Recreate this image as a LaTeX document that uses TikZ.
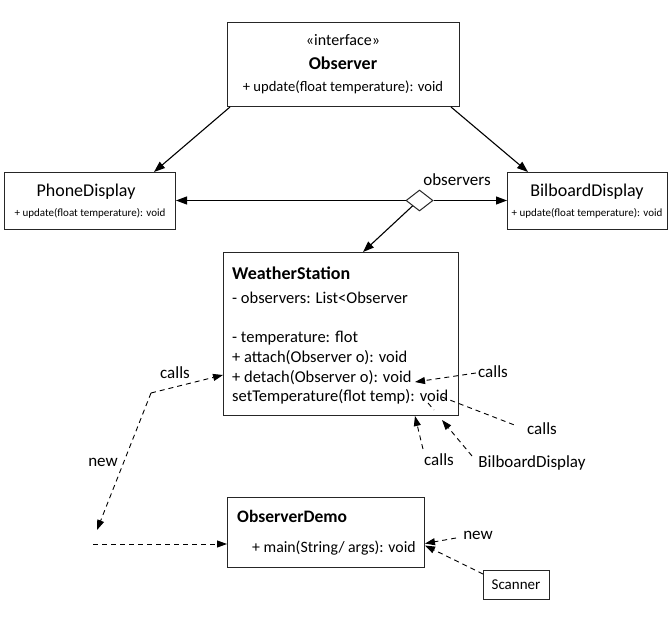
\documentclass[tikz,border=0pt]{standalone}
\usepackage{fontspec}
\setmainfont{Carlito}
\usetikzlibrary{arrows.meta,shapes.geometric}
\tikzset{
  box/.style={draw=black!85, line width=1pt, inner sep=0, anchor=north west, fill=white},
  arr/.style={line width=1.1pt, -{Triangle[length=11pt,width=8pt]}},
  darr/.style={line width=0.9pt, dash pattern=on 5pt off 4pt, -{Triangle[length=10pt,width=7pt]}},
  dln/.style={line width=0.9pt, dash pattern=on 5pt off 4pt},
  lbl/.style={inner sep=0, font=\fontsize{17}{20}\selectfont},
  memb/.style={inner sep=0, anchor=west, font=\fontsize{16.5}{19}\selectfont},
  small/.style={inner sep=0, font=\fontsize{11}{13}\selectfont},
  ttl/.style={inner sep=0, font=\fontsize{18}{21}\selectfont},
  bttl/.style={inner sep=0, font=\fontsize{18}{21}\selectfont\bfseries},
}
\begin{document}
\begin{tikzpicture}[x=1pt,y=-1pt]
\useasboundingbox (0,0) rectangle (672,618);
% Observer interface
\node[box, minimum width=232pt, minimum height=84pt] (obs) at (227,22) {};
\node[inner sep=0, font=\fontsize{16}{19}\selectfont] (obsst) at (343,40) {«interface»};
\node[bttl] (obsname) at (343,63) {Observer};
\node[inner sep=0, font=\fontsize{14.6}{17}\selectfont] (obsop) at (343,87) {+ update(float temperature): void};
% PhoneDisplay
\node[box, minimum width=171pt, minimum height=57pt] (phone) at (4,172) {};
\node[ttl] (phonename) at (86,192) {PhoneDisplay};
\node[small] (phoneop) at (90,213) {+ update(float temperature): void};
% BilboardDisplay
\node[box, minimum width=160pt, minimum height=57pt] (bil) at (507,172) {};
\node[ttl] (bilname) at (587,192) {BilboardDisplay};
\node[small] (bilop) at (587,213) {+ update(float temperature): void};
% diamond
\node[draw=black!85, line width=1pt, fill=white, diamond, minimum width=27pt, minimum height=21pt, inner sep=0] (dia) at (419.5,200.5) {};
\node[lbl] (obslbl) at (457,180) {observers};
% WeatherStation
\node[box, minimum width=235pt, minimum height=163pt] (ws) at (223,252) {};
\node[bttl, anchor=west] (wsname) at (232,273) {WeatherStation};
\node[memb] (ws1) at (232,298) {- observers: List<Observer};
\node[memb] (ws2) at (232,338) {- temperature: flot};
\node[memb] (ws3) at (232,358) {+ attach(Observer o): void};
\node[memb] (ws4) at (232,378) {+ detach(Observer o): void};
\node[memb] (ws5) at (232,397) {setTemperature(flot temp): void};
% ObserverDemo
\node[box, minimum width=197pt, minimum height=70pt] (demo) at (227,497) {};
\node[bttl, anchor=west, font=\fontsize{17.5}{21}\selectfont\bfseries] (demoname) at (237,516) {ObserverDemo};
\node[inner sep=0, anchor=west, font=\fontsize{15.8}{19}\selectfont] (demoop) at (252,548) {+ main(String/ args): void};
% Scanner
\node[box, minimum width=66pt, minimum height=29pt] (scan) at (483,570) {};
\node[inner sep=0, font=\fontsize{15}{18}\selectfont] (scanname) at (516,585) {Scanner};

% solid arrows
\draw[arr] ([xshift=3pt]obs.south west) -- ([xshift=-22pt]phone.north east);
\draw[arr] ([xshift=-9pt]obs.south east) -- ([xshift=21pt]bil.north west);
\draw[arr] (dia.west) -- (phone.east |- dia.west);
\draw[arr] (dia.east) -- (bil.west |- dia.east);
\draw[arr] (dia.south west) -- ([xshift=140pt]ws.north west);

% left dashed connectors
\coordinate (bend) at (151,393);
\coordinate (newtip) at (97,530);
\coordinate (hstart) at (93,544);
\node[lbl] (callsL) at (175,373) {calls};
\node[lbl] (newL) at (103,462) {new};
\draw[darr] (bend) -- (ws.west |- 0,375);
\draw[darr] (bend) -- (newtip);
\draw[darr] (hstart) -- (demo.west |- 0,544);

% right dashed connectors
\node[lbl] (callsR1) at (493,372) {calls};
\coordinate (t1) at (415,382);
\draw[darr] (callsR1.west) ++(-2,1) -- (t1);
\node[lbl] (callsR2) at (542,429) {calls};
\coordinate (c2a) at (442,397);
\coordinate (c2b) at (517,426);
\draw[dln] (c2a) -- (c2b);
\node[lbl] (callsB) at (439,460) {calls};
\coordinate (t3s) at (423,449);
\coordinate (t3) at (415,416);
\draw[darr] (t3s) -- (t3);
\node[lbl] (bdlbl) at (532,463) {BilboardDisplay};
\coordinate (t4s) at (472,456);
\coordinate (t4) at (442,420);
\coordinate (t4a) at (428,403);
\coordinate (t4b) at (434,410);
\draw[darr] (t4s) -- (t4);
\draw[dln] (t4a) -- (t4b);

% ObserverDemo right side
\node[lbl] (newR) at (478,535) {new};
\coordinate (t5s) at (456,538);
\draw[darr] (t5s) -- ([yshift=-11pt]demo.east);
\draw[darr] ([yshift=-4pt]scan.north west) -- ([yshift=-13pt]demo.east);
\end{tikzpicture}
\end{document}
